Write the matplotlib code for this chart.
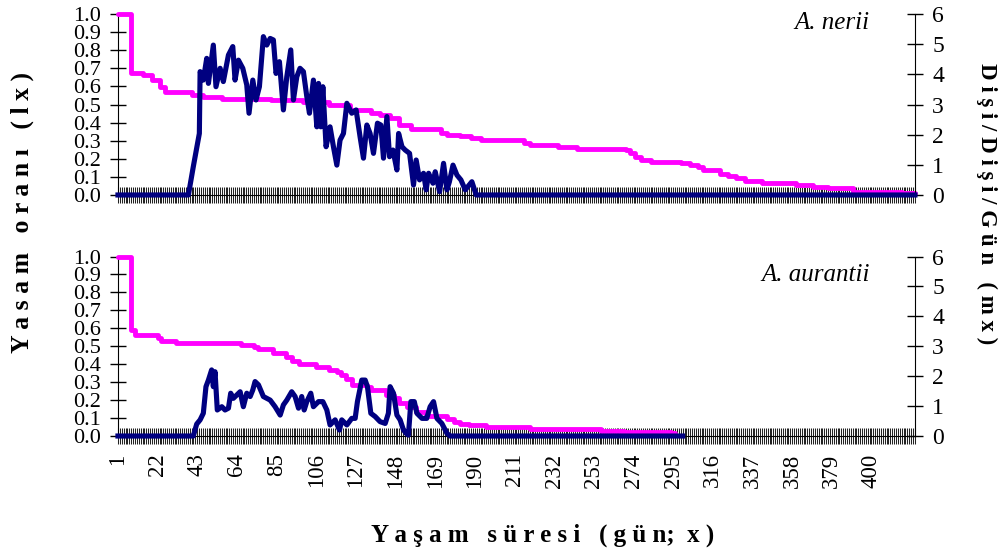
import matplotlib.pyplot as plt
from matplotlib.ticker import MultipleLocator, FixedLocator

plt.rcParams['font.family'] = 'Liberation Serif'

# A. nerii: survival rate lx (value starts on the given day, held until the next)
nerii_lx_day = [1, 8, 14, 19, 23, 26, 40, 46, 56, 82, 99, 113, 124, 135, 140, 145,
                150, 156, 172, 175, 182, 188, 193, 216, 219, 234, 244, 270, 272, 275,
                278, 283, 299, 304, 308, 311, 320, 324, 328, 333, 342, 360, 369, 377,
                390, 416, 423]
nerii_lx = [1.0, 0.676, 0.663, 0.635, 0.597, 0.571, 0.552, 0.543, 0.532, 0.525, 0.515,
            0.497, 0.47, 0.451, 0.442, 0.424, 0.387, 0.363, 0.341, 0.33, 0.326, 0.313,
            0.304, 0.289, 0.276, 0.267, 0.254, 0.249, 0.23, 0.212, 0.193, 0.184, 0.175,
            0.166, 0.156, 0.138, 0.114, 0.107, 0.092, 0.079, 0.068, 0.055, 0.046,
            0.037, 0.018, 0.009, 0.009]

# A. nerii: female offspring per female per day (mx)
nerii_mx_day = [1, 38.3, 40.9, 44.1, 44.5, 46.2, 48.0, 48.9, 51.5, 52.9, 55.1, 56.8,
                59.5, 61.8, 63.0, 64.8, 67.1, 69.2, 70.4, 72.4, 74.1, 75.9, 78.0, 79.8,
                81.6, 83.3, 84.7, 86.5, 88.6, 90.4, 92.5, 93.9, 95.7, 97.4, 99.2, 101.0,
                102.4, 104.5, 106.3, 107.2, 108.4, 109.5, 111.2, 113.3, 115.1, 116.9,
                118.6, 120.4, 122.2, 124.8, 127.1, 129.2, 131.0, 132.8, 134.5, 136.3,
                138.4, 140.2, 141.6, 143.4, 144.8, 146.6, 148.7, 149.6, 151.4, 153.1,
                155.4, 157.5, 158.9, 160.7, 162.8, 164.2, 165.5, 167.8, 169.0, 171.3,
                173.4, 175.2, 176.5, 178.4, 180.5, 182.6, 184.9, 188.4, 190.7, 423]
nerii_mx = [0, 0, 0.94, 2.04, 4.09, 3.81, 4.53, 3.70, 4.97, 3.59, 4.20, 3.76, 4.64,
            4.92, 3.81, 4.47, 4.20, 3.65, 2.71, 3.81, 3.15, 3.59, 5.25, 4.97, 5.19,
            5.14, 4.03, 4.42, 2.82, 3.92, 4.81, 3.15, 3.92, 4.20, 4.09, 3.26, 2.71,
            3.81, 2.26, 3.70, 2.26, 3.59, 1.60, 2.26, 1.60, 0.99, 1.82, 2.04, 3.04,
            2.71, 2.82, 1.93, 1.22, 2.32, 2.04, 1.38, 2.38, 2.32, 1.22, 2.60, 1.27,
            1.49, 0.83, 2.04, 1.60, 1.49, 1.38, 0.33, 1.16, 0.50, 0.72, 0.17, 0.72,
            0.39, 0.77, 0.11, 1.05, 0.17, 0.44, 0.99, 0.66, 0.50, 0.17, 0.44, 0, 0]

# A. aurantii: survival rate lx
aur_lx_day = [1, 8, 10, 22, 24, 32, 66, 73, 75, 83, 90, 93, 97, 106, 113, 117, 119,
              122, 125, 133, 135, 143, 147, 150, 154, 159, 164, 175, 179, 182, 187,
              196, 219, 257, 269, 294, 296]
aur_lx = [1.0, 0.591, 0.563, 0.545, 0.532, 0.517, 0.507, 0.498, 0.483, 0.465, 0.439,
          0.42, 0.401, 0.383, 0.368, 0.359, 0.34, 0.316, 0.284, 0.275, 0.257, 0.229,
          0.21, 0.186, 0.164, 0.136, 0.112, 0.093, 0.08, 0.067, 0.061, 0.048, 0.037,
          0.028, 0.02, 0.015, 0.015]

# A. aurantii: mx
aur_mx_day = [1, 40.9, 42.7, 44.5, 46.2, 47.6, 48.9, 50.6, 51.5, 52.4, 53.6, 56.0,
              57.7, 59.5, 60.7, 62.1, 63.9, 65.7, 67.4, 69.2, 71.0, 72.4, 73.6, 75.4,
              78.0, 81.6, 84.2, 86.9, 88.6, 90.4, 93.0, 94.8, 96.6, 98.3, 99.6, 101.0,
              103.1, 104.5, 107.2, 109.5, 111.6, 113.3, 116.0, 118.3, 119.5, 122.2,
              124.8, 126.6, 127.8, 130.1, 131.9, 133.1, 134.9, 137.2, 139.8, 142.5,
              144.2, 145.1, 146.9, 148.7, 150.4, 152.2, 153.6, 154.8, 156.1, 157.9,
              159.3, 162.0, 164.5, 166.3, 168.1, 169.9, 172.5, 175.2, 176.9, 300]
aur_mx = [0, 0, 0.40, 0.54, 0.76, 1.65, 1.87, 2.21, 1.65, 2.15, 0.87, 0.98, 0.87, 0.93,
          1.43, 1.26, 1.37, 1.48, 0.98, 1.43, 1.32, 1.54, 1.82, 1.71, 1.32, 1.20, 0.98,
          0.70, 1.04, 1.20, 1.48, 1.32, 0.93, 1.32, 0.87, 1.15, 1.43, 0.98, 1.15, 1.15,
          0.87, 0.37, 0.54, 0.20, 0.54, 0.37, 0.59, 0.59, 1.15, 1.87, 1.87, 1.65, 0.76,
          0.65, 0.48, 0.42, 0.76, 1.65, 1.43, 0.70, 0.54, 0.20, 0.09, 0.03, 1.15, 1.15,
          0.76, 0.59, 0.59, 0.98, 1.15, 0.59, 0.42, 0.09, 0, 0]

all_days = list(range(1, 424))
label_days = list(range(1, 401, 21))

fig = plt.figure(figsize=(10.03, 5.56), dpi=100)
ax_top = fig.add_axes([0.1176, 0.6493, 0.7946, 0.3255])
ax_bot = fig.add_axes([0.1176, 0.2158, 0.7946, 0.3228])


def panel(ax, lx_day, lx, mx_day, mx, name, name_y, show_x):
    ax.step(lx_day, lx, where='post', color='#FF00FF', lw=3.5,
            solid_joinstyle='round', solid_capstyle='round', clip_on=False, zorder=3)
    ax.set_xlim(1, 423)
    ax.set_ylim(0, 1)
    ax.yaxis.set_major_locator(MultipleLocator(0.1))
    ax.yaxis.set_major_formatter('{x:.1f}')
    ax.xaxis.set_major_locator(FixedLocator(label_days))
    ax.xaxis.set_minor_locator(FixedLocator(all_days))
    ax.tick_params(axis='x', which='both', direction='inout', length=12, width=0.75,
                   color='#222222', labelsize=16.5, pad=6.5, labelrotation=90)
    ax.tick_params(axis='y', direction='inout', length=11, width=1, labelsize=16, pad=6.5)
    if not show_x:
        ax.tick_params(axis='x', labelbottom=False)
    for s in ['top', 'right']:
        ax.spines[s].set_visible(False)
    ax.text(0.9435, name_y, name, transform=ax.transAxes, ha='right', va='center',
            fontsize=18, style='italic')

    tw = ax.twinx()
    tw.plot(mx_day, mx, color='#000080', lw=3.7, solid_joinstyle='round',
            clip_on=False, zorder=4)
    tw.set_ylim(0, 6)
    tw.set_xlim(1, 423)
    tw.yaxis.set_major_locator(MultipleLocator(1))
    tw.tick_params(axis='y', direction='inout', length=11, width=1, labelsize=17, pad=7)
    for s in ['top', 'left', 'bottom']:
        tw.spines[s].set_visible(False)
    return tw


panel(ax_top, nerii_lx_day, nerii_lx, nerii_mx_day, nerii_mx, 'A. nerii', 0.95, False)
panel(ax_bot, aur_lx_day, aur_lx, aur_mx_day, aur_mx, 'A. aurantii', 0.897, True)

fig.text(0.022, 0.618, 'Y a s a m   o r a n ı   ( l x )', rotation=90,
         ha='center', va='center', fontsize=18.5, fontweight='bold')
fig.text(0.984, 0.633, 'D i ş i / D i ş i / G ü n   ( m x )', rotation=-90,
         ha='center', va='center', fontsize=16.5, fontweight='bold')
fig.text(0.541, 0.038, 'Y a ş a m   s ü r e s i   ( g ü n;  x )',
         ha='center', va='center', fontsize=18, fontweight='bold')

fig.savefig('out.png', dpi=100)
